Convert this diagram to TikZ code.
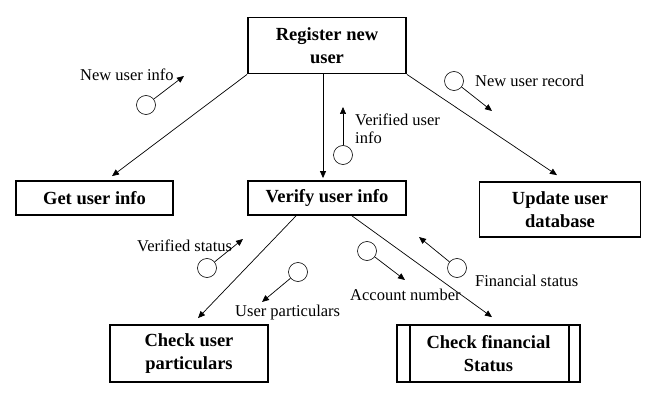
\documentclass[tikz,border=0pt]{standalone}
\usepackage{fontspec}
\setmainfont{Liberation Serif}
\usetikzlibrary{arrows.meta}
\begin{document}
\begin{tikzpicture}[x=1pt,y=-1pt,
  proc/.style={draw,line width=1.8pt,inner sep=0pt,align=center,
    font=\fontsize{18.5}{23}\selectfont\bfseries},
  conn/.style={line width=0.7pt,-{Triangle[length=7pt,width=6pt]}},
  dfc/.style={draw,circle,line width=0.6pt,minimum size=19pt,inner sep=0pt},
  lbl/.style={inner sep=0pt,font=\fontsize{16.5}{18.5}\selectfont},
]
\useasboundingbox (0,0) rectangle (650,398);

% process boxes
\node[proc,minimum width=158pt,minimum height=56pt] (reg) at (327,45.5) {Register new\\user};
\node[proc,minimum width=157pt,minimum height=34pt] (get) at (94.5,198) {Get user info};
\node[proc,minimum width=158pt,minimum height=34pt] (ver) at (327,198) {Verify user info};
\node[proc,minimum width=161pt,minimum height=55pt] (upd) at (560,209.5) {Update user\\database};
\node[proc,minimum width=158pt,minimum height=57pt] (chk) at (189,353.5) {Check user\\particulars};
\node[proc,minimum width=183pt,minimum height=57pt] (fin) at (488.5,353.5) {Check financial\\Status};
\draw[line width=1.5pt] ([xshift=14pt]fin.north west) -- ([xshift=14pt]fin.south west);
\draw[line width=1.5pt] ([xshift=-12pt]fin.north east) -- ([xshift=-12pt]fin.south east);

% connectors
\draw[conn] (reg.south west) -- ([xshift=17.5pt,yshift=4pt]get.north);
\draw[conn] ([xshift=-4pt]reg.south) -- ([xshift=-4pt,yshift=2pt]ver.north);
\draw[conn] (reg.south east) -- ([xshift=-3pt,yshift=6pt]upd.north);
\draw[conn] ([xshift=-31pt]ver.south) -- ([xshift=9pt,yshift=6pt]chk.north);
\draw[conn] ([xshift=25pt]ver.south) -- ([xshift=3.5pt,yshift=7pt]fin.north);

% data flows
\node[dfc] (c1) at (146,105) {};
\coordinate (t1) at (184,76);
\draw[conn] (c1) -- (t1);
\node[lbl,anchor=base west] (l1) at (80,80.5) {New user info};

\node[dfc] (c2) at (343,155) {};
\coordinate (t2) at (343,107);
\draw[conn] (c2) -- (t2);
\node[lbl,anchor=north west,align=left] (l2) at (355,113.5) {Verified user\\info};

\node[dfc] (c3) at (454,81) {};
\coordinate (t3) at (492,111);
\draw[conn] (c3) -- (t3);
\node[lbl,anchor=base west] (l3) at (475,86.5) {New user record};

\node[dfc] (c4) at (207,268) {};
\coordinate (t4) at (243,239);
\draw[conn] (c4) -- (t4);
\node[lbl,anchor=base west] (l4) at (137,251.5) {Verified status};

\node[dfc] (c5) at (298,272) {};
\coordinate (t5) at (262,302);
\draw[conn] (c5) -- (t5);
\node[lbl,anchor=base west] (l5) at (235,316.5) {User particulars};

\node[dfc] (c6) at (367,251) {};
\coordinate (t6) at (405,280);
\draw[conn] (c6) -- (t6);
\node[lbl,anchor=base west] (l6) at (350,300) {Account number};

\node[dfc] (c7) at (457,268) {};
\coordinate (t7) at (419,237);
\draw[conn] (c7) -- (t7);
\node[lbl,anchor=base west] (l7) at (475,286.5) {Financial status};
\end{tikzpicture}
\end{document}
